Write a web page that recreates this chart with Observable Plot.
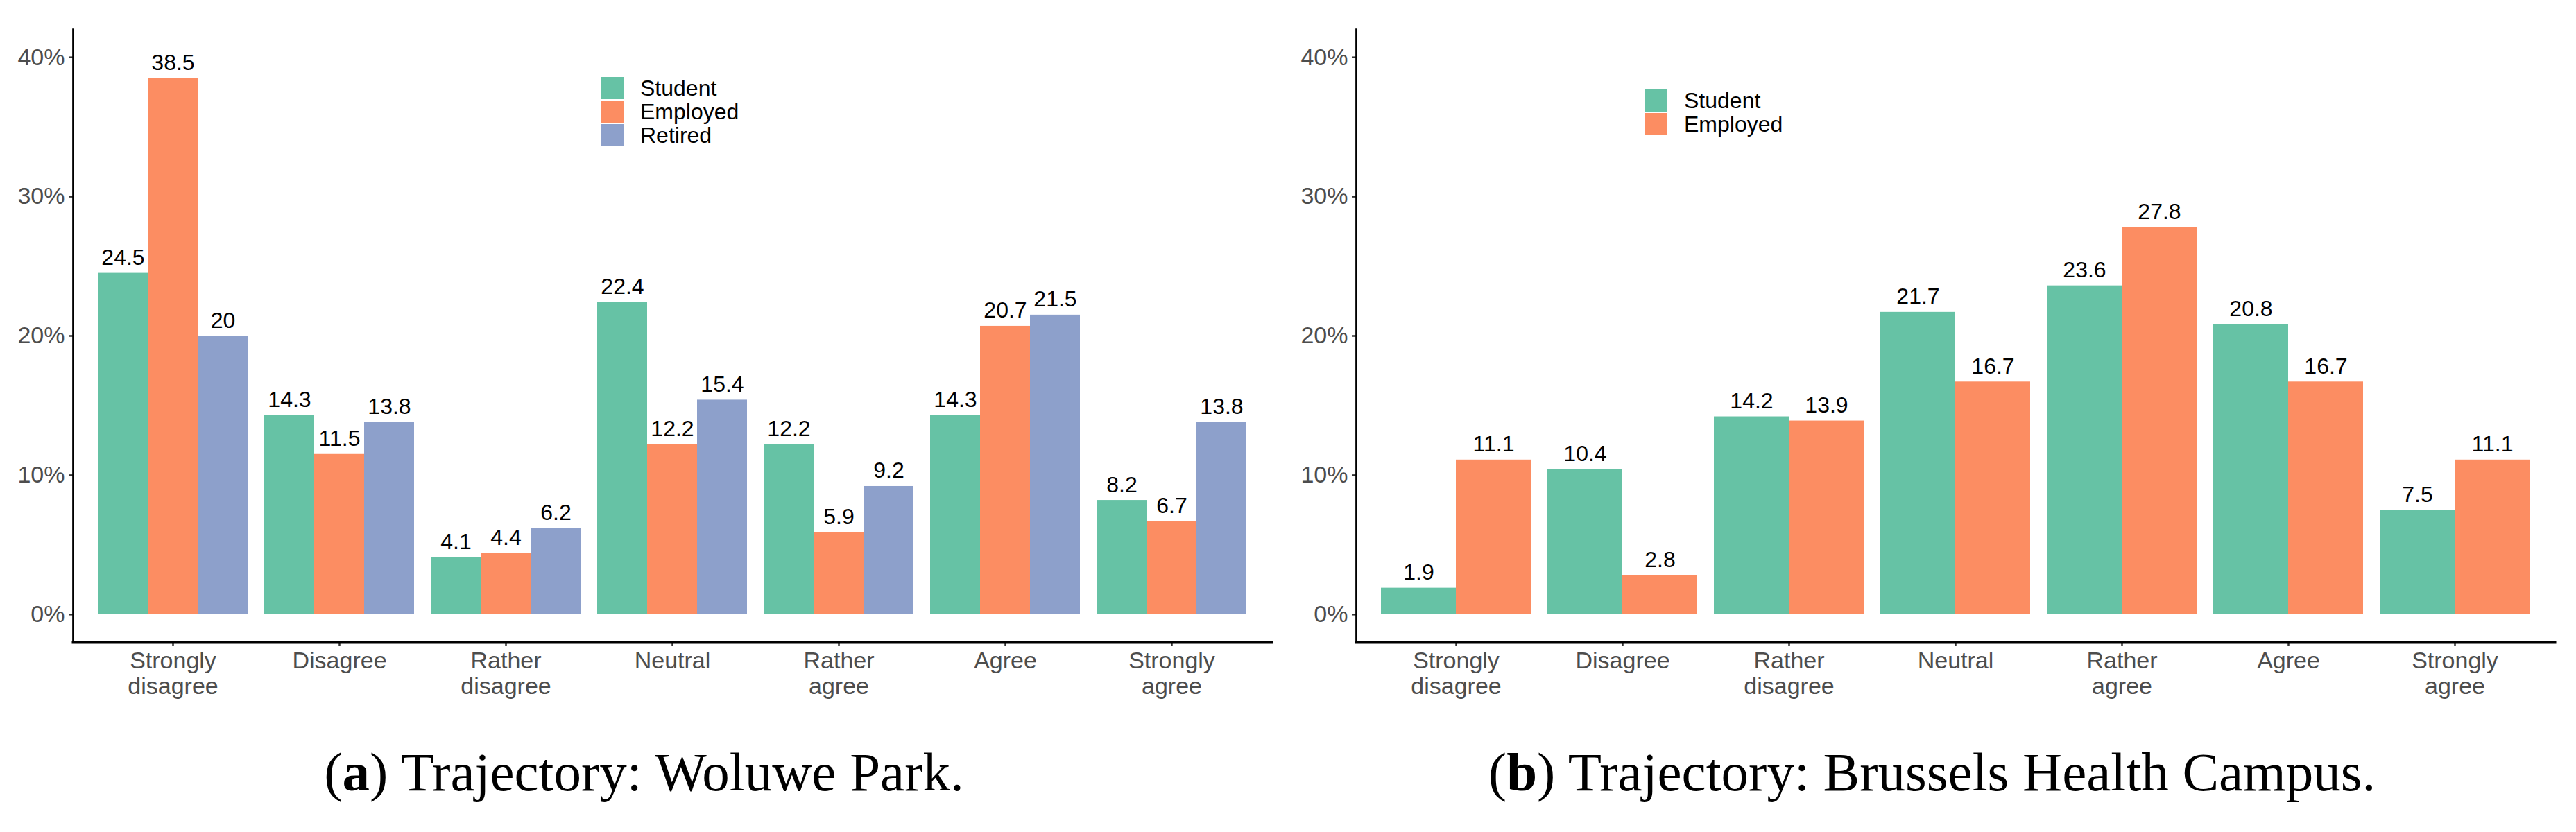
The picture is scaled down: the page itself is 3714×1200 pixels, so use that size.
<!DOCTYPE html>
<html><head><meta charset="utf-8">
<script src="https://cdn.jsdelivr.net/npm/d3@7"></script>
<script src="https://cdn.jsdelivr.net/npm/@observablehq/plot@0.6"></script>
<style>
body{margin:0;background:#fff;}
#root{position:relative;width:3714px;height:1200px;overflow:hidden;background:#fff;}
.panel{position:absolute;top:0;}
.caption{position:absolute;top:1074px;width:1857px;font-family:"Liberation Serif",serif;font-size:79px;line-height:79px;color:#000;text-align:center;white-space:nowrap;}
.legend{position:absolute;font-family:"Liberation Sans",Arial,sans-serif;font-size:32px;color:#000;}
.item{display:flex;align-items:center;height:34px;}
.sw{width:32px;height:32px;margin-right:24px;flex:none;}
</style></head><body><div id="root"></div>
<script>
const categories = ["Strongly disagree","Disagree","Rather disagree","Neutral","Rather agree","Agree","Strongly agree"];
const tickLabels = ["Strongly\ndisagree","Disagree","Rather\ndisagree","Neutral","Rather\nagree","Agree","Strongly\nagree"];
const seriesA = ["Student","Employed","Retired"];
const woluweStudent  = [24.5,14.3,4.1,22.4,12.2,14.3,8.2];
const woluweEmployed = [38.5,11.5,4.4,12.2,5.9,20.7,6.7];
const woluweRetired  = [20,13.8,6.2,15.4,9.2,21.5,13.8];
const seriesB = ["Student","Employed"];
const campusStudent  = [1.9,10.4,14.2,21.7,23.6,20.8,7.5];
const campusEmployed = [11.1,2.8,13.9,16.7,27.8,16.7,11.1];
const yTicks = [0,10,20,30,40];
const yDomain = [-2,42];
const colorRange = ["#66C2A5","#FC8D62","#8DA0CB"];
const colorOf = s => colorRange[["Student","Employed","Retired"].indexOf(s)];

const root = document.getElementById("root");

function makePlot(cfg, bw) {
  const k = cfg.series.length;
  const sub = bw / k;
  const marks = [];
  cfg.series.forEach((s, i) => {
    const data = categories.map((c, j) => ({cat: c, value: cfg.values[i][j], series: s}));
    marks.push(Plot.barY(data, {x: "cat", y1: 0, y2: "value", fill: colorOf(s),
      insetLeft: i * sub, insetRight: (k - 1 - i) * sub}));
    marks.push(Plot.text(data, {x: "cat", y: "value", text: d => String(d.value),
      dx: (i - (k - 1) / 2) * sub, dy: -12, lineAnchor: "bottom", fill: "#000", fontSize: 32}));
  });
  marks.push(Plot.axisY({ticks: yTicks, tickFormat: d => d + "%", tickSize: 6, tickPadding: 6,
    fontSize: 34, fill: "#4D4D4D", stroke: "#333333", strokeWidth: 2.5, label: null}));
  marks.push(Plot.axisX({tickFormat: d => tickLabels[categories.indexOf(d)], tickSize: 6, tickPadding: 5,
    fontSize: 34, lineHeight: 1.09, fill: "#4D4D4D", stroke: "#333333", strokeWidth: 2.5, label: null}));
  marks.push(Plot.frame({anchor: "left", stroke: "#000", strokeWidth: 2.7}));
  marks.push(Plot.frame({anchor: "bottom", stroke: "#000", strokeWidth: 4}));
  return Plot.plot({
    width: 1857, height: 1040,
    marginTop: 42, marginBottom: 114, marginLeft: cfg.ml, marginRight: cfg.mr,
    style: {fontFamily: "Liberation Sans, Arial, sans-serif", background: "white", overflow: "visible"},
    x: {type: "band", domain: categories, paddingInner: 0.1, paddingOuter: 0.15},
    y: {domain: yDomain},
    marks
  });
}

function panel(cfg) {
  let p = makePlot(cfg, 0);
  const bw = p.scale("x").bandwidth;
  p = makePlot(cfg, bw);
  const wrap = document.createElement("div");
  wrap.className = "panel";
  wrap.style.left = cfg.left + "px";
  wrap.appendChild(p);
  root.appendChild(wrap);

  const lg = document.createElement("div");
  lg.className = "legend";
  lg.style.left = cfg.legend[0] + "px";
  lg.style.top = cfg.legend[1] + "px";
  cfg.series.forEach(s => {
    const it = document.createElement("div");
    it.className = "item";
    const sw = document.createElement("div");
    sw.className = "sw";
    sw.style.background = colorOf(s);
    const tx = document.createElement("span");
    tx.textContent = s;
    it.appendChild(sw); it.appendChild(tx);
    lg.appendChild(it);
  });
  root.appendChild(lg);

  const cap = document.createElement("div");
  cap.className = "caption";
  cap.style.left = cfg.left + "px";
  cap.innerHTML = "(<b>" + cfg.letter + "</b>) " + cfg.caption;
  root.appendChild(cap);
}

panel({series: seriesA, values: [woluweStudent, woluweEmployed, woluweRetired],
  left: 0, ml: 105, mr: 24, legend: [867, 110], letter: "a", caption: "Trajectory: Woluwe Park."});
panel({series: seriesB, values: [campusStudent, campusEmployed],
  left: 1857, ml: 98, mr: 31, legend: [2372, 128], letter: "b", caption: "Trajectory: Brussels Health Campus."});
</script></body></html>
